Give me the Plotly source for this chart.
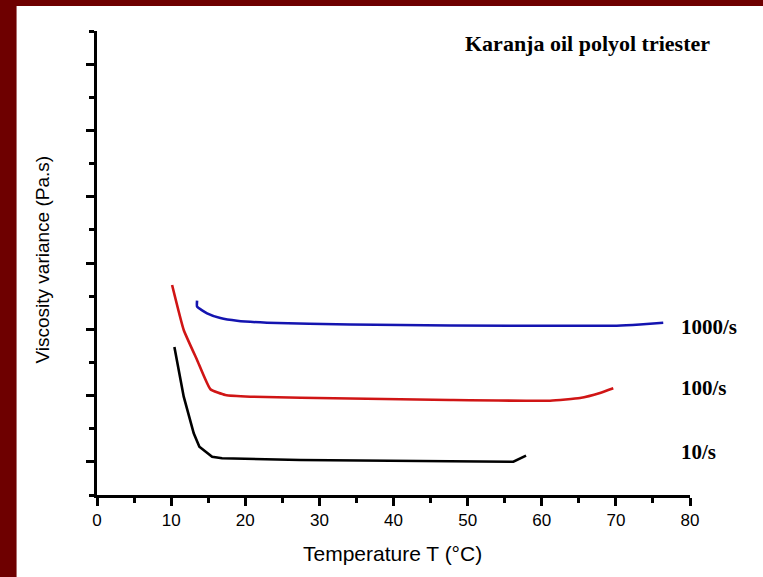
import plotly.graph_objects as go

# --- data (y axis has no labels, arbitrary units) ---
t_10 = [10.44, 11.70, 13.05, 13.81, 15.53, 16.87, 27.43, 47.64, 56.17, 57.88]
v_10 = [1.733, 0.983, 0.431, 0.229, 0.078, 0.054, 0.028, 0.005, 0.002, 0.093]

t_100 = [10.13, 11.70, 13.50, 15.30, 17.32, 20.69, 34.16, 47.64, 61.12, 65.16, 67.86, 69.65]
v_100 = [2.668, 1.989, 1.537, 1.095, 1.009, 0.983, 0.956, 0.933, 0.923, 0.963, 1.039, 1.110]

t_1000 = [13.50, 13.50, 14.85, 16.64, 18.89, 22.94, 34.16, 47.64, 70.11, 73.25, 76.39]
v_1000 = [2.431, 2.341, 2.241, 2.170, 2.129, 2.099, 2.072, 2.057, 2.054, 2.072, 2.099]

series_labels = ["1000/s", "100/s", "10/s"]
x_ticks = [0, 10, 20, 30, 40, 50, 60, 70, 80]
title_text = "Karanja oil polyol triester"
x_title = "Temperature T (°C)"
y_title = "Viscosity variance (Pa.s)"

W, H = 763, 577
L, R, T, B = 96.5, 73, 31, 82
pw, ph = W - L - R, H - T - B

def px_x(p):
    return (p - L) / pw

def px_y(p):
    return (H - B - p) / ph

fig = go.Figure()
fig.add_trace(go.Scatter(x=t_10, y=v_10, mode="lines",
                         line=dict(color="#000000", width=2.6), showlegend=False))
fig.add_trace(go.Scatter(x=t_100, y=v_100, mode="lines",
                         line=dict(color="#D01515", width=2.6, shape="spline", smoothing=0.4),
                         showlegend=False))
fig.add_trace(go.Scatter(x=t_1000, y=v_1000, mode="lines",
                         line=dict(color="#1414B0", width=2.6, shape="spline", smoothing=0.4),
                         showlegend=False))

axis_common = dict(showgrid=False, zeroline=False, showline=True, linecolor="black",
                   linewidth=2.5, ticks="outside", tickcolor="black", tickwidth=2.5,
                   ticklen=8, mirror=False)

fig.update_xaxes(range=[0, 80], tickvals=x_ticks, ticktext=[str(v) for v in x_ticks],
                 tickfont=dict(family="Liberation Sans, Arial", size=17, color="black"),
                 minor=dict(dtick=5, tick0=0, ticks="outside", ticklen=5, tickwidth=2.5,
                            tickcolor="black"),
                 **axis_common)
fig.update_yaxes(range=[-0.5, 6.5], tick0=0, dtick=1, showticklabels=False,
                 minor=dict(dtick=0.5, tick0=-0.5, ticks="outside", ticklen=5, tickwidth=2.5,
                            tickcolor="black"),
                 **axis_common)

annotations = [
    dict(text=title_text, x=px_x(463), y=px_y(43), xref="paper", yref="paper",
         xanchor="left", yanchor="middle", showarrow=False,
         font=dict(family="Liberation Serif, Times New Roman", size=22, color="black", weight="bold")),
    dict(text=x_title, x=px_x(392), y=px_y(553), xref="paper", yref="paper",
         xanchor="center", yanchor="middle", showarrow=False,
         font=dict(family="Liberation Sans, Arial", size=21, color="black")),
    dict(text=y_title, x=px_x(41), y=px_y(260), xref="paper", yref="paper",
         xanchor="center", yanchor="middle", showarrow=False, textangle=-90,
         font=dict(family="Liberation Sans, Arial", size=19, color="black")),
]
for lab, py in zip(series_labels, [327, 388, 452]):
    annotations.append(dict(text=lab, x=px_x(679), y=px_y(py), xref="paper", yref="paper",
                            xanchor="left", yanchor="middle", showarrow=False,
                            font=dict(family="Liberation Serif, Times New Roman", size=21,
                                      color="black", weight="bold")))

border = "#6E0000"
shapes = [
    dict(type="rect", xref="paper", yref="paper", x0=px_x(-5), x1=px_x(16),
         y0=px_y(H + 5), y1=px_y(-5), fillcolor=border, line=dict(width=0), layer="above"),
    dict(type="rect", xref="paper", yref="paper", x0=px_x(-5), x1=px_x(W + 5),
         y0=px_y(6), y1=px_y(-5), fillcolor=border, line=dict(width=0), layer="above"),
]

fig.update_layout(width=W, height=H, margin=dict(l=L, r=R, t=T, b=B),
                  paper_bgcolor="white", plot_bgcolor="white",
                  annotations=annotations, shapes=shapes)

fig.write_html("out.html", config={"displayModeBar": False},
               post_script="document.body.style.margin='0';document.body.style.padding='0';"
                           "document.documentElement.style.overflow='hidden';")
